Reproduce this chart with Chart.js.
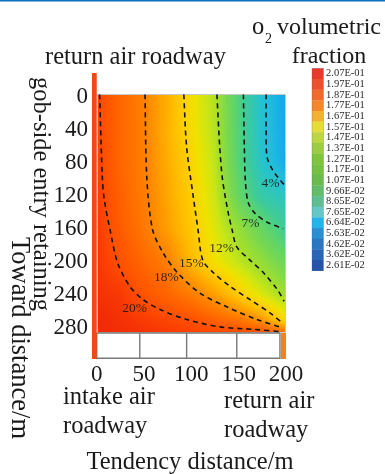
<!DOCTYPE html>
<html>
<head>
<meta charset="utf-8">
<script src="https://cdn.jsdelivr.net/npm/chart.js@4/dist/chart.umd.min.js"></script>
<style>
  html, body { margin: 0; padding: 0; background: #fff; }
  #wrap { width: 385px; height: 474px; position: relative; }
</style>
</head>
<body>
<div id="wrap"><canvas id="c" width="385" height="474"></canvas></div>
<script>
// O2 volume fraction (%) sampled on a grid over the goaf
const gridX = [0, 25, 50, 75, 100, 125, 150, 175, 200];
const gridY = [-3, 40, 80, 120, 160, 200, 240, 270, 287];
const o2Grid = [
  [20.3, 19.1, 18.05, 16.3, 14.3, 12.2, 7.8, 4.5, 2.8],
  [20.3, 19.1, 18.1, 16.3, 14.4, 12.3, 8.0, 4.6, 2.8],
  [20.4, 19.1, 18.1, 16.5, 14.8, 12.6, 8.2, 4.9, 3.0],
  [20.5, 19.3, 18.2, 16.7, 15.1, 13.0, 9.0, 6.2, 5.2],
  [20.6, 19.5, 18.4, 17.0, 15.4, 13.5, 11.3, 9.0, 6.8],
  [20.7, 19.9, 19.0, 18.1, 16.0, 14.2, 12.7, 11.1, 9.3],
  [20.8, 20.6, 19.8, 19.1, 18.3, 17.0, 15.3, 13.4, 11.6],
  [21.0, 20.8, 20.5, 20.2, 19.9, 19.2, 18.5, 17.2, 14.5],
  [21.0, 20.9, 20.8, 20.6, 20.4, 20.3, 20.2, 20.1, 19.0]
];

// iso-concentration lines, [x, y] in metres
const contourLevels = [20, 18, 15, 12, 7, 4];
const contour20 = [[3,-3],[6,100],[8,125],[14,161],[22,201],[35,230],[49,246],[67,258],[95,270],[130,279],[165,282],[196,285]];
const contour18 = [[51,-3],[53,100],[59,161],[70,189],[85,213],[109,238],[138,255],[169,270],[196,280]];
const contour15 = [[92,-3],[95,61],[102,121],[107,161],[112,198],[123,213],[141,230],[162,246],[183,262],[196,274]];
const contour12 = [[127,-3],[130,61],[133,101],[139,141],[143,161],[148,182],[162,198],[176,213],[191,234],[198,248]];
const contour7  = [[155,-3],[156,61],[157,101],[160,128],[167,141],[180,152],[197,160]];
const contour4  = [[179,-3],[179,40],[180,73],[186,89],[194,101],[199,108]];
const contourLabelPos = [[40,257],[73.5,219.5],[100,202.5],[132,183.5],[162.5,153.5],[183.5,105.5]];

// axis ticks
const xTicks = [0, 50, 100, 150, 200];
const yTicks = [0, 40, 80, 120, 160, 200, 240, 280];

// legend levels (volume fraction)
const legendLevels = [0.207, 0.197, 0.187, 0.177, 0.167, 0.157, 0.147, 0.137, 0.127, 0.117,
                      0.107, 0.0966, 0.0865, 0.0765, 0.0664, 0.0563, 0.0462, 0.0362, 0.0261];
const legendColors = ['#e83a2c','#ed502c','#f06a2e','#f4862e','#f3b032','#e6dc3a','#bcd646','#9ccc42',
                      '#80c43e','#74c040','#6abc4a','#62bc68','#5ebe90','#66c8c4','#24b4ea','#2a8ed2',
                      '#2a78c4','#2a66b8','#2654a8'];

// roadway cells below the goaf
const cellEdges = [0, 45.5, 95, 148, 193.6];

const heatTop = -3, heatBottom = 286.5, stripBottom = 318;

// colour ramp used for the field (value in %)
const rampStops = [
  [2.0, [16,150,240]], [3.0, [20,170,236]], [4.0, [32,188,222]], [5.0, [40,196,200]],
  [7.0, [64,204,150]], [8.0, [84,210,120]], [10.0, [120,216,80]], [12.0, [168,224,40]],
  [13.0, [204,230,20]], [14.0, [238,226,0]], [15.0, [255,208,0]], [16.0, [255,186,0]],
  [17.0, [255,158,0]], [18.0, [255,130,0]], [19.0, [255,104,0]], [20.0, [255,78,0]],
  [20.5, [250,60,4]], [21.0, [240,42,6]]
];

function rampColor(v) {
  if (v <= rampStops[0][0]) return rampStops[0][1];
  for (let k = 1; k < rampStops.length; k++) {
    if (v <= rampStops[k][0]) {
      const [a, ca] = rampStops[k-1], [b, cb] = rampStops[k];
      const t = (v - a) / (b - a);
      return [ca[0]+(cb[0]-ca[0])*t, ca[1]+(cb[1]-ca[1])*t, ca[2]+(cb[2]-ca[2])*t];
    }
  }
  return rampStops[rampStops.length-1][1];
}

function locate(arr, v) {
  if (v <= arr[0]) return [0, 0];
  for (let k = 1; k < arr.length; k++) {
    if (v <= arr[k]) return [k-1, (v - arr[k-1]) / (arr[k] - arr[k-1])];
  }
  return [arr.length-2, 1];
}

function sampleField(xv, yv) {
  const [i, tx] = locate(gridX, xv);
  const [j, ty] = locate(gridY, yv);
  const a = o2Grid[j][i], b = o2Grid[j][i+1], c = o2Grid[j+1][i], d = o2Grid[j+1][i+1];
  return (a*(1-tx) + b*tx) * (1-ty) + (c*(1-tx) + d*tx) * ty;
}

function fmtSci(v) {
  const [m, e] = v.toExponential(2).split('e');
  const n = parseInt(e, 10);
  return m + 'E' + (n < 0 ? '-' : '+') + String(Math.abs(n)).padStart(2, '0');
}

const SERIF = '"Liberation Serif", "Times New Roman", serif';
const TXT = '#1a1a1a';

const fieldPlugin = {
  id: 'o2field',
  beforeDatasetsDraw(chart) {
    const { ctx, scales: { x, y } } = chart;
    const px0 = Math.round(x.getPixelForValue(0)), px1 = Math.round(x.getPixelForValue(200));
    const py0 = Math.round(y.getPixelForValue(heatTop)), py1 = Math.round(y.getPixelForValue(heatBottom));
    const w = px1 - px0, h = py1 - py0;
    const off = document.createElement('canvas');
    off.width = w; off.height = h;
    const octx = off.getContext('2d');
    const img = octx.createImageData(w, h);
    for (let j = 0; j < h; j++) {
      const yv = y.getValueForPixel(py0 + j + 0.5);
      for (let i = 0; i < w; i++) {
        const xv = x.getValueForPixel(px0 + i + 0.5);
        const c = rampColor(sampleField(xv, yv));
        const p = (j * w + i) * 4;
        img.data[p] = c[0]; img.data[p+1] = c[1]; img.data[p+2] = c[2]; img.data[p+3] = 255;
      }
    }
    octx.putImageData(img, 0, 0);
    ctx.save();
    ctx.drawImage(off, px0, py0);
    ctx.strokeStyle = '#c8c8c8';
    ctx.lineWidth = 1;
    ctx.strokeRect(px0 + 0.5, py0 + 0.5, w - 1, h - 1);

    // roadway cells
    const sy0 = y.getPixelForValue(heatBottom), sy1 = y.getPixelForValue(stripBottom);
    ctx.fillStyle = '#ffffff';
    ctx.fillRect(x.getPixelForValue(cellEdges[0]), sy0, x.getPixelForValue(cellEdges[cellEdges.length-1]) - x.getPixelForValue(cellEdges[0]), sy1 - sy0);
    ctx.strokeStyle = '#7a7a7a';
    ctx.lineWidth = 1.4;
    ctx.beginPath();
    ctx.moveTo(x.getPixelForValue(cellEdges[0]), sy0);
    ctx.lineTo(x.getPixelForValue(cellEdges[cellEdges.length-1]), sy0);
    ctx.moveTo(x.getPixelForValue(cellEdges[0]), sy1 - 0.7);
    ctx.lineTo(x.getPixelForValue(cellEdges[cellEdges.length-1]), sy1 - 0.7);
    cellEdges.forEach(e => {
      const px = x.getPixelForValue(e);
      ctx.moveTo(px, sy0); ctx.lineTo(px, sy1);
    });
    ctx.stroke();

    // intake roadway (left) and return roadway end (right)
    ctx.fillStyle = '#f04818';
    const lx0 = x.getPixelForValue(-5), lx1 = x.getPixelForValue(0);
    ctx.fillRect(lx0, y.getPixelForValue(-29), lx1 - lx0, y.getPixelForValue(stripBottom) - y.getPixelForValue(-29));
    ctx.fillStyle = '#f28220';
    const rx0 = x.getPixelForValue(194.6), rx1 = x.getPixelForValue(200);
    ctx.fillRect(rx0, sy0, rx1 - rx0, sy1 - sy0);
    ctx.restore();
  },
  afterDatasetsDraw(chart) {
    const { ctx, scales: { x, y } } = chart;
    ctx.save();
    ctx.font = '13.5px ' + SERIF;
    ctx.fillStyle = 'rgba(20,20,20,0.85)';
    ctx.textAlign = 'center';
    ctx.textBaseline = 'middle';
    contourLevels.forEach((lv, k) => {
      const [lxv, lyv] = contourLabelPos[k];
      ctx.fillText(lv + '%', x.getPixelForValue(lxv), y.getPixelForValue(lyv));
    });
    ctx.restore();
  },
  afterDraw(chart) {
    const { ctx, scales: { x, y } } = chart;
    ctx.save();
    // top rule of the page
    ctx.fillStyle = '#0a6fbe';
    ctx.fillRect(0, 0, 385, 1.5);

    ctx.fillStyle = TXT;
    ctx.textBaseline = 'middle';

    // tick labels
    ctx.font = '23px ' + SERIF;
    ctx.textAlign = 'right';
    yTicks.forEach(t => ctx.fillText(String(t), 88, y.getPixelForValue(t)));
    ctx.textAlign = 'center';
    xTicks.forEach(t => ctx.fillText(String(t), x.getPixelForValue(t), 375));

    // roadway names
    ctx.font = '24.5px ' + SERIF;
    ctx.textAlign = 'left';
    ctx.fillText('return air roadway', 45, 58);
    ctx.fillText('intake air', 63, 398);
    ctx.fillText('roadway', 63, 427);
    ctx.fillText('return air', 224, 402);
    ctx.fillText('roadway', 224, 431);
    ctx.textAlign = 'center';
    ctx.fillText('Tendency distance/m', 190, 463);

    // vertical titles
    ctx.save();
    ctx.translate(40, 194);
    ctx.rotate(Math.PI / 2);
    ctx.fillText('gob-side entry retaining', 0, 0);
    ctx.restore();
    ctx.save();
    ctx.font = '26.5px ' + SERIF;
    ctx.translate(19, 338);
    ctx.rotate(Math.PI / 2);
    ctx.fillText('Toward distance/m', 0, 0);
    ctx.restore();

    // legend title
    ctx.textAlign = 'left';
    ctx.fillText('o', 252, 28);
    ctx.font = '14px ' + SERIF;
    ctx.fillText('2', 265, 39);
    ctx.font = '24px ' + SERIF;
    ctx.fillText('volumetric', 277, 28);
    ctx.textAlign = 'center';
    ctx.fillText('fraction', 329, 57);

    // legend swatches
    const bx = 312, bw = 11.5, by = 68.3, bh = 10.65;
    legendLevels.forEach((v, k) => {
      ctx.fillStyle = legendColors[k];
      ctx.fillRect(bx, by + k * bh, bw, bh + 0.3);
    });
    ctx.strokeStyle = 'rgba(90,90,140,0.35)';
    ctx.lineWidth = 0.8;
    ctx.strokeRect(bx, by, bw, bh * legendLevels.length);
    ctx.fillStyle = '#2a2a2a';
    ctx.font = '10.5px ' + SERIF;
    ctx.textAlign = 'left';
    legendLevels.forEach((v, k) => {
      ctx.fillText(fmtSci(v), 326, by + (k + 0.5) * bh);
    });
    ctx.restore();
  }
};

const toPts = arr => arr.map(([px, py]) => ({ x: px, y: py }));
const contourSets = [contour20, contour18, contour15, contour12, contour7, contour4].map((pts, k) => ({
  label: contourLevels[k] + '%',
  data: toPts(pts),
  borderColor: '#141414',
  borderWidth: 1.6,
  borderDash: [5, 4],
  pointRadius: 0,
  tension: 0.3,
  fill: false
}));

new Chart(document.getElementById('c'), {
  type: 'line',
  data: { datasets: contourSets },
  options: {
    responsive: false,
    animation: false,
    parsing: true,
    layout: { padding: { left: 92, right: 99, top: 73, bottom: 115 } },
    plugins: { legend: { display: false }, tooltip: { enabled: false }, title: { display: false } },
    scales: {
      x: { type: 'linear', min: -5, max: 200, display: false },
      y: { type: 'linear', min: -29, max: 318, reverse: true, display: false }
    }
  },
  plugins: [fieldPlugin]
});
</script>
</body>
</html>
